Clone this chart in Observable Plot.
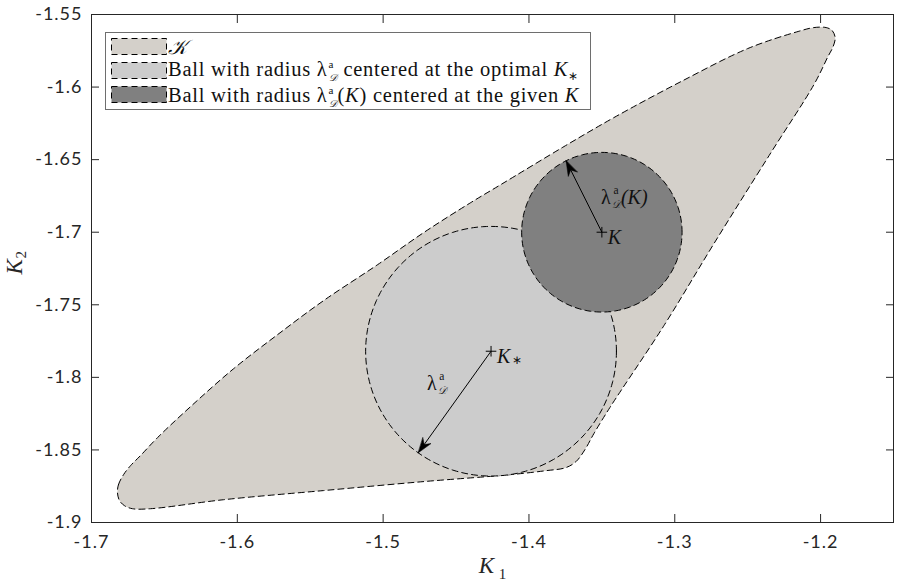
<!DOCTYPE html>
<html>
<head>
<meta charset="utf-8">
<script src="https://cdn.jsdelivr.net/npm/d3@7"></script>
<script src="https://cdn.jsdelivr.net/npm/@observablehq/plot@0.6"></script>
<style>
  body { margin: 0; background: #fff; }
  #wrap { position: relative; width: 898px; height: 587px; }
  #legend {
    position: absolute; left: 105px; top: 32px; width: 484px; height: 76px;
    border: 1px solid #6e6e6e; background: #fff;
    font-family: "Liberation Serif", serif; font-size: 20.5px; letter-spacing: 0.75px; color: #111;
  }
  #legend .row { position: absolute; left: 5px; height: 18px; display: flex; align-items: center; white-space: nowrap; }
  #legend svg { display: block; margin-right: 0; }
  .ss { display: inline-block; position: relative; width: 10px; height: 0; vertical-align: baseline; }
  .ss .sup { position: absolute; left: 1px; bottom: 6px; font-size: 11px; line-height: 1; letter-spacing: 0; }
  .ss .sub { position: absolute; left: 1px; bottom: -7px; font-size: 10px; line-height: 1; font-style: italic; letter-spacing: 0; }
  .st { font-size: 12px; vertical-align: -4px; letter-spacing: 0; }
  svg text { letter-spacing: 0; }
  g[aria-label="x-axis tick label"] text, g[aria-label="y-axis tick label"] text { letter-spacing: 1px; }
</style>
</head>
<body>
<div id="wrap">
  <div id="chart"></div>
  <div id="legend"></div>
</div>
<script>
// ---- data ----
const regionK1 = [-1.6822,-1.6815,-1.6780,-1.6732,-1.6664,-1.6547,-1.6321,-1.6025,-1.5723,-1.5408,-1.5037,-1.4721,-1.4399,-1.4193,-1.3760,-1.3417,-1.2957,-1.2498,-1.2154,-1.2045,-1.1962,-1.1921,-1.1900,-1.1914,-1.1949,-1.2045,-1.2340,-1.2731,-1.3074,-1.3445,-1.3555,-1.3616,-1.3678,-1.3747,-1.3884,-1.4124,-1.4721,-1.5408,-1.6094,-1.6595,-1.6719,-1.6774,-1.6808];
const regionK2 = [-1.8794,-1.8739,-1.8670,-1.8608,-1.8539,-1.8415,-1.8202,-1.7940,-1.7705,-1.7471,-1.7223,-1.7002,-1.6796,-1.6672,-1.6410,-1.6210,-1.5962,-1.5734,-1.5617,-1.5590,-1.5590,-1.5610,-1.5659,-1.5721,-1.5789,-1.5982,-1.6451,-1.7078,-1.7643,-1.8208,-1.8388,-1.8498,-1.8581,-1.8622,-1.8643,-1.8670,-1.8718,-1.8780,-1.8843,-1.8905,-1.8905,-1.8884,-1.8849];

const ballNames   = ["optimal", "given"];
const ballCenterK1 = [-1.426, -1.350];
const ballCenterK2 = [-1.782, -1.700];
const ballRadius   = [0.086, 0.055];
const arrowAngleDeg = [-125.5, 116.5];   // direction of the radius arrow
const centerLabels = ["K", "K"];
const centerSubs   = ["∗", ""];
const lambdaLabelK1 = [-1.4666, -1.3472];
const lambdaLabelK2 = [-1.8043, -1.6761];
const lambdaSuffix  = ["", "(K)"];

const xTicks = [-1.7, -1.6, -1.5, -1.4, -1.3, -1.2];
const yTicks = [-1.9, -1.85, -1.8, -1.75, -1.7, -1.65, -1.6, -1.55];
const xDomain = [-1.7, -1.15];
const yDomain = [-1.9, -1.55];

const lam = 'λ<span class="ss"><span class="sup">a</span><span class="sub">𝒟</span></span>';
const legendLabels = [
  '<i>𝒦</i>',
  'Ball with radius ' + lam + ' centered at the optimal <i>K</i><span class="st">∗</span>',
  'Ball with radius ' + lam + '(<i>K</i>) centered at the given <i>K</i>'
];

// ---- derived tables ----
const region = regionK1.map((k1, i) => ({k1, k2: regionK2[i]}));
const balls = ballNames.map((name, i) => ({name, cx: ballCenterK1[i], cy: ballCenterK2[i], r: ballRadius[i], a: arrowAngleDeg[i]}));
const outline = b => d3.range(0, 360, 2).map(t => ({k1: b.cx + b.r * Math.cos(t * Math.PI / 180), k2: b.cy + b.r * Math.sin(t * Math.PI / 180)}));
const arrows = balls.map(b => ({
  cx: b.cx, cy: b.cy,
  tx: b.cx + b.r * Math.cos(b.a * Math.PI / 180),
  ty: b.cy + b.r * Math.sin(b.a * Math.PI / 180),
  rot: 90 - b.a
}));
const centers = balls.map((b, i) => ({k1: b.cx, k2: b.cy, label: centerLabels[i], sub: centerSubs[i]}));
const lambdas = lambdaLabelK1.map((k1, i) => ({k1, k2: lambdaLabelK2[i], suffix: lambdaSuffix[i]}));

const fills = {region: "#d4d0ca", optimal: "#cccccc", given: "#808080"};
const serif = "Liberation Serif";
const head = {draw(ctx, l) { ctx.moveTo(0, -l); ctx.lineTo(-5, 0); ctx.lineTo(0, -l * 0.32); ctx.lineTo(5, 0); ctx.closePath(); }};
const dash = "6,4";

const plot = Plot.plot({
  width: 898, height: 587,
  marginLeft: 91, marginRight: 5, marginTop: 14, marginBottom: 65,
  x: {domain: xDomain},
  y: {domain: yDomain},
  style: {fontFamily: "Lato", fontSize: "18px", color: "#262626", background: "#fff"},
  marks: [
    Plot.line(region, {x: "k1", y: "k2", curve: "catmull-rom-closed", fill: fills.region, stroke: "#000", strokeWidth: 1, strokeDasharray: dash}),
    ...balls.map(b => Plot.line(outline(b), {x: "k1", y: "k2", curve: "linear-closed", fill: fills[b.name], stroke: "#000", strokeWidth: 1, strokeDasharray: dash})),
    Plot.link(arrows, {x1: "cx", y1: "cy", x2: "tx", y2: "ty", stroke: "#000", strokeWidth: 1}),
    Plot.vector(arrows, {x: "tx", y: "ty", rotate: "rot", length: 15, anchor: "end", shape: head, fill: "#000", stroke: "#000", strokeWidth: 0.5}),
    Plot.dot(centers, {x: "k1", y: "k2", symbol: "plus", r: 3.5, stroke: "#000", strokeWidth: 1}),
    Plot.text(centers, {x: "k1", y: "k2", text: "label", textAnchor: "start", dx: 6, dy: 5, fontFamily: serif, fontStyle: "italic", fontSize: 20, fill: "#111"}),
    Plot.text(centers, {x: "k1", y: "k2", text: "sub", textAnchor: "start", dx: 21, dy: 9, fontFamily: serif, fontSize: 12, fill: "#111"}),
    Plot.text(lambdas, {x: "k1", y: "k2", text: () => "λ", fontFamily: serif, fontSize: 20, fill: "#111"}),
    Plot.text(lambdas, {x: "k1", y: "k2", text: () => "a", dx: 10, dy: -7, fontFamily: serif, fontSize: 11.5, fill: "#111"}),
    Plot.text(lambdas, {x: "k1", y: "k2", text: () => "𝒟", dx: 10, dy: 7, fontFamily: serif, fontStyle: "italic", fontSize: 10.5, fill: "#111"}),
    Plot.text(lambdas, {x: "k1", y: "k2", text: "suffix", textAnchor: "start", dx: 15, fontFamily: serif, fontStyle: "italic", fontSize: 20, fill: "#111"}),
    Plot.frame({stroke: "#262626", strokeWidth: 1}),
    Plot.axisX({ticks: xTicks, tickSize: 0, tickPadding: 13, tickFormat: d => String(d), label: null}),
    Plot.axisX({ticks: xTicks, tickSize: -8, tickFormat: () => "", label: null, stroke: "#262626"}),
    Plot.axisX({ticks: xTicks, anchor: "top", tickSize: -8, tickFormat: () => "", label: null, stroke: "#262626"}),
    Plot.axisY({ticks: yTicks, tickSize: 0, tickPadding: 9, tickFormat: d => String(d), label: null}),
    Plot.axisY({ticks: yTicks, tickSize: -8, tickFormat: () => "", label: null, stroke: "#262626"}),
    Plot.axisY({ticks: yTicks, anchor: "right", tickSize: -8, tickFormat: () => "", label: null, stroke: "#262626"}),
    Plot.text(["K"], {frameAnchor: "bottom", dx: -6, dy: 50, fontFamily: serif, fontStyle: "italic", fontSize: 23, fill: "#262626"}),
    Plot.text(["1"], {frameAnchor: "bottom", dx: 10, dy: 56, fontFamily: serif, fontSize: 15, fill: "#262626"}),
    Plot.text(["K"], {frameAnchor: "left", dx: -77, dy: 6, rotate: -90, fontFamily: serif, fontStyle: "italic", fontSize: 23, fill: "#262626"}),
    Plot.text(["2"], {frameAnchor: "left", dx: -70, dy: -10, rotate: -90, fontFamily: serif, fontSize: 15, fill: "#262626"})
  ]
});
document.getElementById("chart").appendChild(plot);

// legend (inside the axes, upper left)
const legend = d3.select("#legend");
const legendFills = [fills.region, fills.optimal, fills.given];
legendLabels.forEach((html, i) => {
  const row = legend.append("div").attr("class", "row").style("top", (5 + i * 24) + "px");
  const sw = row.append("svg").attr("width", 57).attr("height", 18);
  sw.append("rect").attr("x", 0.5).attr("y", 0.5).attr("width", 55).attr("height", 16)
    .attr("fill", legendFills[i]).attr("stroke", "#000").attr("stroke-dasharray", dash);
  row.append("span").html(html);
});
</script>
</body>
</html>
